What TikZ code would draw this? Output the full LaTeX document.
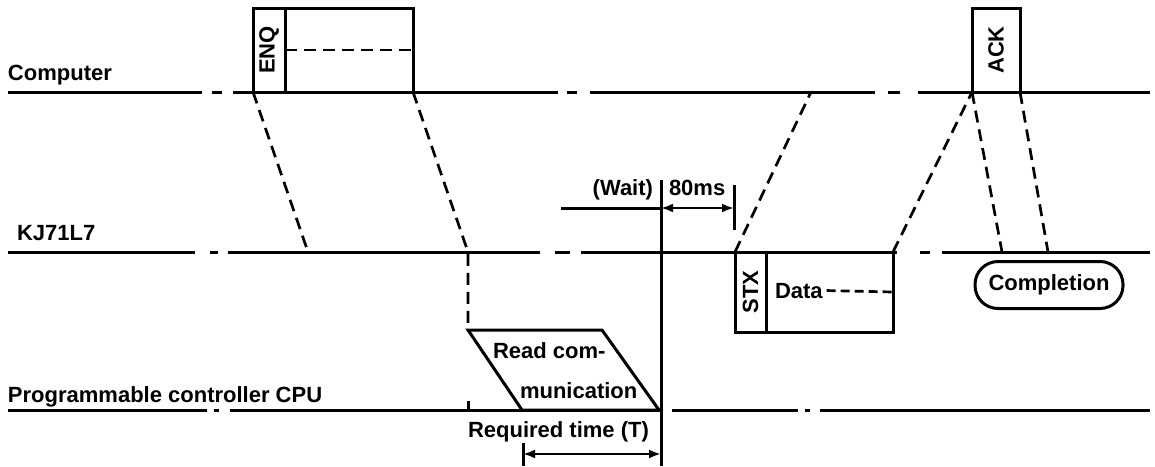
\documentclass[tikz,border=0pt]{standalone}
\usepackage{fontspec}
\setmainfont{Liberation Sans}
\usetikzlibrary{arrows.meta, positioning}
\newcommand{\lblfont}{\fontsize{22}{25}\selectfont\bfseries}

\begin{document}
\begin{tikzpicture}[x=1pt, y=-1pt, line width=3pt,
    every node/.style={font=\lblfont, inner sep=0pt, outer sep=0pt},
    frame/.style={draw, line width=3pt, anchor=south west},
    link/.style={line width=2.7pt, dash pattern=on 12pt off 7pt},
    dim/.style={line width=2.4pt, {Latex[length=12pt,width=9pt]}-{Latex[length=12pt,width=9pt]}}]
  \useasboundingbox (0,0) rectangle (1155,466);

  % time lines
  \draw (8,92) -- (202,92) (212,92) -- (222,92) (233,92) -- (558,92)
        (567,92) -- (577,92) (590,92) -- (875,92) (888,92) -- (900,92)
        (918,92) -- (1150,92);
  \draw (8,252) -- (195,252) (210,252) -- (218,252) (228,252) -- (540,252)
        (555,252) -- (570,252) (581,252) -- (897,252) (920,252) -- (930,252)
        (942,252) -- (1150,252);
  \draw (8,410) -- (207,410) (214,410) -- (219,410) (230,410) -- (661,410)
        (672,410) -- (798,410) (805,410) -- (810,410) (820,410) -- (1150,410);

  \node[anchor=base west] (comp) at (8,80) {Computer};
  \node[anchor=base west] (kj) at (17,240) {KJ71L7};
  \node[anchor=base west] (cpu) at (8,402) {Programmable controller CPU};

  % computer side
  \node[frame, minimum width=32pt, minimum height=84pt] (enq) at (253,92) {\rotatebox{90}{ENQ}};
  \node[frame, minimum width=128pt, minimum height=84pt] (enqdata) at (285,92) {};
  \draw[link] (enqdata.west) -- (enqdata.east);
  \node[frame, minimum width=48pt, minimum height=84pt] (ack) at (972,92) {\rotatebox{90}{ACK}};

  % KJ71L7 side
  \node[frame, anchor=north west, minimum width=31pt, minimum height=80pt] (stx) at (735,252) {\rotatebox{90}{STX}};
  \node[frame, anchor=north west, minimum width=127pt, minimum height=80pt] (stxdata) at (766,252) {};
  \node[anchor=base west] (data) at (775,298) {Data};
  \draw[link, dash pattern=on 9pt off 5pt] ([xshift=4pt]data.east) -- (stxdata.east);
  \node[draw, rounded corners=23pt, minimum width=148pt, minimum height=47pt] (done) at (1049,285) {Completion};

  % CPU side
  \coordinate (rtl) at (468,330);
  \draw[line join=miter] (rtl) -- (602,330) -- (659,410) -- (522,410) -- cycle;
  \node[anchor=base west] (read1) at (493,358) {Read com-};
  \node[anchor=base west] (read2) at (520,398) {munication};
  \draw (468,401) -- (468,410);

  % transfers
  \coordinate (k1) at (308,252);
  \coordinate (k2) at (468,252);
  \coordinate (c1) at (811,92);
  \coordinate (k3) at (1002,252);
  \coordinate (k4) at (1048,252);
  \draw[link] (enq.south west) -- (k1);
  \draw[link] (enqdata.south east) -- (k2) -- (rtl);
  \draw[link] (stx.north west) -- (c1);
  \draw[link] (stxdata.north east) -- (ack.south west);
  \draw[link] (ack.south west) -- (k3);
  \draw[link] (ack.south east) -- (k4);

  % timing
  \draw (661,180) coordinate (vtop) -- (661,466) coordinate (vbot);
  \coordinate (wstart) at (561,208);
  \coordinate (wmid) at (661,208);
  \coordinate (wend) at (734,208);
  \draw (wstart) -- (wmid);
  \draw[dim] (wmid) -- (wend);
  \draw (734,185) -- (734,230);
  \node[anchor=base east] (wait) at (653,195) {(Wait)};
  \node[anchor=base west] (ms) at (669,195) {80ms};

  \node[anchor=base west] (reqtime) at (468,437) {Required time (T)};
  \coordinate (tstart) at (523,454);
  \coordinate (tend) at (661,454);
  \draw[dim] (tstart) -- (tend);
  \draw (523,443) -- (523,466);
\end{tikzpicture}
\end{document}
